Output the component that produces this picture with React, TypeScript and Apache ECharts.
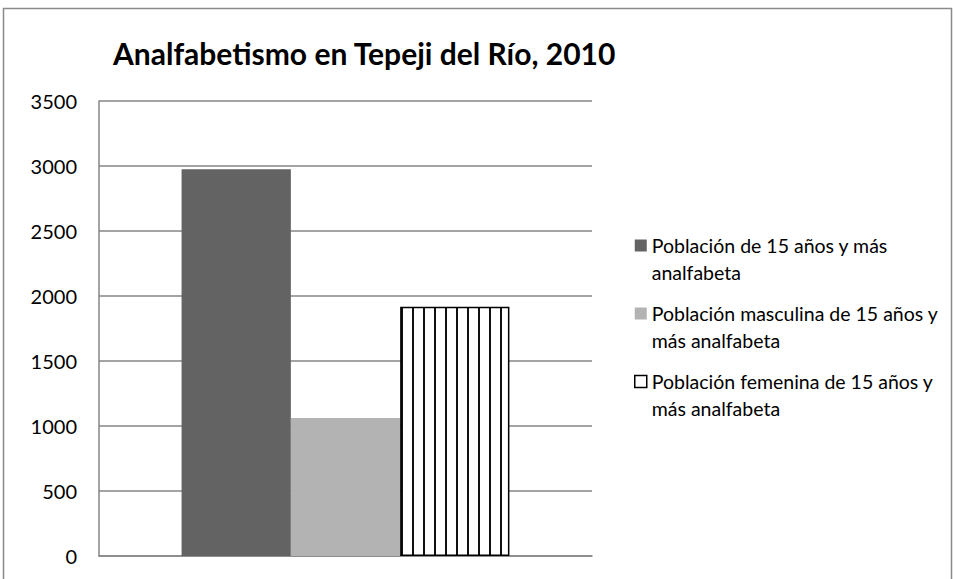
import React, { useEffect, useRef } from "react";
import * as echarts from "echarts";

const categories = ["Tepeji del Río"];
const seriesNames = [
  "Población de 15 años y más analfabeta",
  "Población masculina de 15 años y más analfabeta",
  "Población femenina de 15 años y más analfabeta",
];
const legendLabels = [
  "Población de 15 años y más\nanalfabeta",
  "Población masculina de 15 años y\nmás analfabeta",
  "Población femenina de 15 años y\nmás analfabeta",
];
const values = [2975, 1062, 1917];
const yTicks = { min: 0, max: 3500, interval: 500 };

const FONT = "Lato";

function makeStripes(): HTMLCanvasElement {
  const c = document.createElement("canvas");
  c.width = 11;
  c.height = 11;
  const ctx = c.getContext("2d")!;
  ctx.fillStyle = "#fff";
  ctx.fillRect(0, 0, 11, 11);
  ctx.fillStyle = "#111";
  ctx.fillRect(5, 0, 2, 11);
  return c;
}

export default function App() {
  const ref = useRef<HTMLDivElement>(null);
  useEffect(() => {
    if (!ref.current) return;
    const chart = echarts.init(ref.current, undefined, { renderer: "svg" });
    const stripes = makeStripes();
    const styles = [
      { color: "#636363" },
      { color: "#b3b3b3" },
      { color: { image: stripes, repeat: "repeat" }, borderColor: "#000", borderWidth: 1.5 },
    ];
    chart.setOption({
      animation: false,
      title: {
        text: "Analfabetismo en Tepeji del Río, 2010",
        left: 108,
        top: 33,
        textStyle: { fontFamily: FONT, fontSize: 30, fontWeight: "bold", color: "#000" },
      },
      graphic: [
        {
          type: "rect",
          shape: { x: 3.5, y: 8.5, width: 948, height: 620 },
          style: { fill: "none", stroke: "#8a8a8a", lineWidth: 1.5 },
          silent: true,
        },
      ],
      legend: {
        orient: "vertical",
        left: 634,
        top: 205,
        padding: 0,
        itemWidth: 12,
        itemHeight: 12,
        itemGap: -13,
        formatter: (name: string) => "\n" + legendLabels[seriesNames.indexOf(name)],
        textStyle: {
          fontFamily: FONT,
          fontSize: 19.5,
          color: "#000",
          lineHeight: 27,
        },
        data: seriesNames.map((n, i) => ({
          name: n,
          icon: "rect",
          itemStyle:
            i === 2
              ? { color: "#fff", borderColor: "#000", borderWidth: 1.5 }
              : { color: (styles[i] as any).color },
        })),
      },
      grid: { left: 99, right: 362, top: 101, bottom: 23, containLabel: false },
      xAxis: {
        type: "category",
        data: categories,
        axisLabel: { show: false },
        axisTick: { show: false },
        axisLine: { lineStyle: { color: "#868686", width: 1.5 } },
      },
      yAxis: {
        type: "value",
        min: yTicks.min,
        max: yTicks.max,
        interval: yTicks.interval,
        axisLine: { show: true, lineStyle: { color: "#868686", width: 1.5 } },
        axisTick: { show: false },
        axisLabel: {
          fontFamily: FONT,
          fontSize: 20,
          color: "#000",
          margin: 22,
          formatter: (v: number) => String(v),
        },
        splitLine: { lineStyle: { color: "#868686", width: 1.5 } },
      },
      series: seriesNames.map((n, i) => ({
        name: n,
        type: "bar",
        data: [values[i]],
        barGap: "0%",
        barCategoryGap: "33.5%",
        itemStyle: styles[i],
      })),
    });
    return () => chart.dispose();
  }, []);
  return (
    <div
      ref={ref}
      style={{ position: "fixed", left: 0, top: 0, width: 954, height: 579, background: "#fff" }}
    />
  );
}
